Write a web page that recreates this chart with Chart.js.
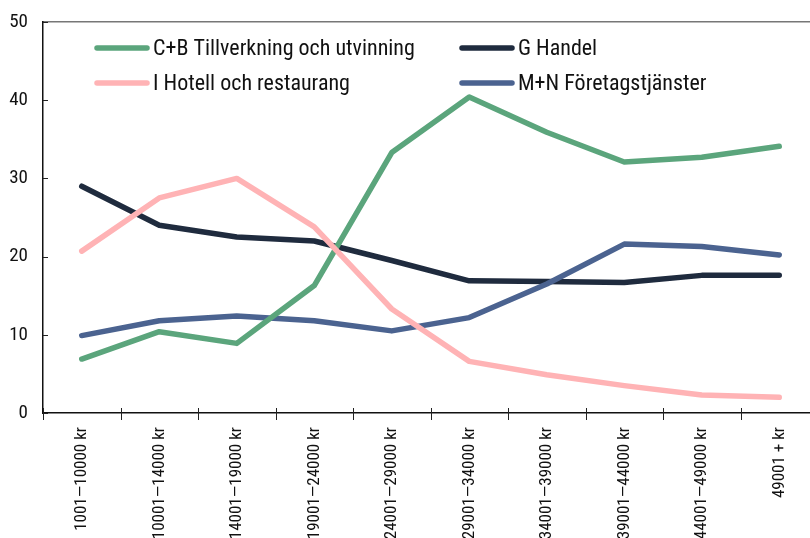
<!DOCTYPE html>
<html>
<head>
<meta charset="utf-8">
<script src="https://cdn.jsdelivr.net/npm/chart.js@4"></script>
<style>
  html, body { margin: 0; padding: 0; background: #fff; overflow: hidden; }
  #wrap { position: relative; width: 818px; height: 538px; }
</style>
</head>
<body>
<div id="wrap"><canvas id="chart"></canvas></div>
<script>
// Data
const categories = [
  "1001—10000 kr", "10001—14000 kr", "14001—19000 kr", "19001—24000 kr", "24001—29000 kr",
  "29001—34000 kr", "34001—39000 kr", "39001—44000 kr", "44001—49000 kr", "49001 + kr"
];
const tillverkning = [6.9, 10.4, 8.9, 16.3, 33.3, 40.4, 35.9, 32.1, 32.7, 34.1];
const handel = [29.0, 24.0, 22.5, 22.0, 19.5, 16.9, 16.8, 16.7, 17.6, 17.6];
const hotell = [20.7, 27.5, 30.0, 23.8, 13.3, 6.6, 4.9, 3.5, 2.3, 2.0];
const foretag = [9.9, 11.8, 12.4, 11.8, 10.5, 12.2, 16.5, 21.6, 21.3, 20.2];
const yTicks = [0, 10, 20, 30, 40, 50];

const narrowFont = '"Roboto Condensed", "Roboto", sans-serif';

// Legend drawn on the canvas, two columns
const legendPlugin = {
  id: "twoColLegend",
  afterDraw(chart) {
    const ctx = chart.ctx;
    const cols = [95, 460];
    const rows = [48, 83];
    ctx.save();
    ctx.font = "22px " + narrowFont;
    ctx.textBaseline = "middle";
    chart.data.datasets.forEach((ds, k) => {
      const x = cols[k % 2];
      const y = rows[Math.floor(k / 2)];
      ctx.strokeStyle = ds.borderColor;
      ctx.lineWidth = 5.5;
      ctx.lineCap = "round";
      ctx.beginPath();
      ctx.moveTo(x + 2, y);
      ctx.lineTo(x + 52, y);
      ctx.stroke();
      ctx.fillStyle = "#111";
      ctx.fillText(ds.label, x + 58, y + 1);
    });
    ctx.restore();
  }
};

// Small tick marks: inward on y, crossing on x
const tickPlugin = {
  id: "tickMarks",
  beforeDatasetsDraw(chart) {
    const ctx = chart.ctx;
    const xs = chart.scales.x;
    const ys = chart.scales.y;
    ctx.save();
    ctx.strokeStyle = "#222";
    ctx.lineWidth = 1;
    ctx.beginPath();
    yTicks.forEach((v) => {
      const py = Math.round(ys.getPixelForValue(v)) + 0.5;
      ctx.moveTo(ys.right, py);
      ctx.lineTo(ys.right + 5, py);
    });
    for (let i = 0; i <= categories.length; i++) {
      const px = Math.round(xs.getPixelForValue(i - 0.5)) + 0.5;
      ctx.moveTo(px, xs.top - 5);
      ctx.lineTo(px, xs.top + 7);
    }
    ctx.stroke();
    ctx.restore();
  }
};

const ctx = document.getElementById("chart").getContext("2d");
new Chart(ctx, {
  type: "line",
  data: {
    labels: categories,
    datasets: [
      { label: "C+B Tillverkning och utvinning", data: tillverkning, borderColor: "#5BA57C", order: 2 },
      { label: "G Handel", data: handel, borderColor: "#1F2B3E", order: 4 },
      { label: "I Hotell och restaurang", data: hotell, borderColor: "#FFB3B5", order: 1 },
      { label: "M+N Företagstjänster", data: foretag, borderColor: "#4B6390", order: 3 }
    ].map((d) => Object.assign(d, {
      borderWidth: 5.5,
      pointRadius: 0,
      pointHoverRadius: 0,
      tension: 0,
      fill: false,
      borderCapStyle: "round",
      borderJoinStyle: "round"
    }))
  },
  options: {
    responsive: true,
    maintainAspectRatio: false,
    animation: false,
    layout: { padding: { top: 22, right: 0, left: 0, bottom: 0 } },
    plugins: {
      legend: { display: false },
      tooltip: { enabled: false }
    },
    scales: {
      x: {
        type: "category",
        offset: true,
        grid: { display: true, drawOnChartArea: false, drawTicks: false, offset: true },
        border: { display: true, color: "#111", width: 1.5 },
        ticks: {
          minRotation: 90,
          maxRotation: 90,
          padding: 14,
          color: "#111",
          font: { family: narrowFont, size: 17 }
        },
        afterFit(scale) { scale.height = 125; }
      },
      x2: {
        type: "category",
        position: "top",
        offset: true,
        grid: { display: true, drawOnChartArea: false, drawTicks: false },
        border: { display: true, color: "#777", width: 1.5 },
        ticks: { display: false },
        afterFit(scale) { scale.height = 0; }
      },
      y: {
        min: 0,
        max: 50,
        grid: { display: true, drawOnChartArea: false, drawTicks: false },
        border: { display: true, color: "#111", width: 1.5 },
        ticks: {
          stepSize: 10,
          padding: 15,
          color: "#111",
          font: { family: narrowFont, size: 19 }
        },
        afterFit(scale) {
          scale.width = 43;
          scale.paddingTop = 0;
          scale.paddingBottom = 0;
        }
      }
    }
  },
  plugins: [tickPlugin, legendPlugin]
});
</script>
</body>
</html>
